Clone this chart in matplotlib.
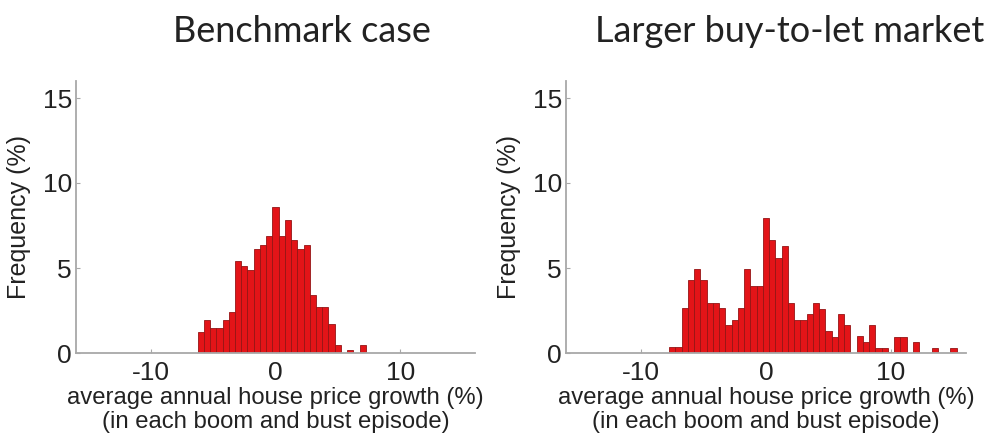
import numpy as np
import matplotlib
matplotlib.use("Agg")
import matplotlib.pyplot as plt

# ---- data (bin centres in % growth, frequency in %) ----
bench_centers = np.arange(-6.0, 7.01, 0.5)
bench_freq = [1.22, 1.92, 1.45, 1.45, 1.92, 2.41, 5.39, 5.14, 4.90, 6.12,
              6.37, 6.86, 8.59, 6.86, 7.84, 6.63, 6.12, 6.37, 3.41, 2.69,
              2.69, 1.69, 0.49, 0.0, 0.20, 0.0, 0.49]

btl_centers = np.arange(-7.5, 15.01, 0.5)
btl_freq = [0.33, 0.33, 2.65, 4.27, 4.96, 4.27, 2.94, 2.94, 2.63, 1.63,
            1.96, 2.65, 4.96, 3.96, 3.96, 7.94, 6.63, 5.59, 6.27, 2.94,
            1.96, 1.96, 2.29, 2.94, 2.61, 1.31, 0.92, 2.29, 1.63, 0.0,
            0.98, 0.63, 1.63, 0.29, 0.29, 0.05, 0.94, 0.94, 0.0, 0.63,
            0.0, 0.0, 0.29, 0.0, 0.0, 0.29]

titles = ["Benchmark case", "Larger buy-to-let market"]
xlabel = "average annual house price growth (%)\n(in each boom and bust episode)"
ylabel = "Frequency (%)"
xticks = [-10, 0, 10]
yticks = [0, 5, 10, 15]

plt.rcParams['font.family'] = ['Liberation Sans', 'DejaVu Sans']
plt.rcParams['axes.unicode_minus'] = False

fig = plt.figure(figsize=(9.97, 4.4), dpi=100)
W, H = 997, 440

def px_axes(l, r, t, b):
    return [l / W, (H - b) / H, (r - l) / W, (b - t) / H]

axes = [fig.add_axes(px_axes(76, 475, 81, 353)),
        fig.add_axes(px_axes(566, 966, 81, 353))]

datasets = [(bench_centers, bench_freq), (btl_centers, btl_freq)]
spine_col = '#a8a8a8'
for ax, (cx, fq), title in zip(axes, datasets, titles):
    cx = np.asarray(cx)
    fq = np.asarray(fq)
    m = fq > 0
    ax.bar(cx[m], fq[m], width=0.5, align='center', color='#e31418',
           edgecolor='#951515', linewidth=0.6, zorder=2)
    ax.set_xlim(-16, 16)
    ax.set_ylim(0, 16)
    ax.set_xticks(xticks)
    ax.set_yticks(yticks)
    for s in ['top', 'right']:
        ax.spines[s].set_visible(False)
    for s in ['left', 'bottom']:
        ax.spines[s].set_color(spine_col)
        ax.spines[s].set_linewidth(1.3)
    ax.tick_params(direction='in', length=3, width=0.8, color=spine_col,
                   labelsize=19, labelcolor='#222222')
    ax.tick_params(axis='x', pad=6)
    ax.tick_params(axis='y', pad=3)
    ax.set_xlabel(xlabel, fontsize=17.2, color='#222222', labelpad=1,
                  linespacing=1.12)
    ax.set_ylabel(ylabel, fontsize=18, color='#222222', labelpad=8)
    ax.set_facecolor('none')

fig.text(302 / W, 1 - 32 / H, titles[0], ha='center', va='center',
         fontsize=26, family='Lato', color='#222222')
fig.text(790 / W, 1 - 32 / H, titles[1], ha='center', va='center',
         fontsize=26, family='Lato', color='#222222')

fig.savefig('out.png', dpi=100)
